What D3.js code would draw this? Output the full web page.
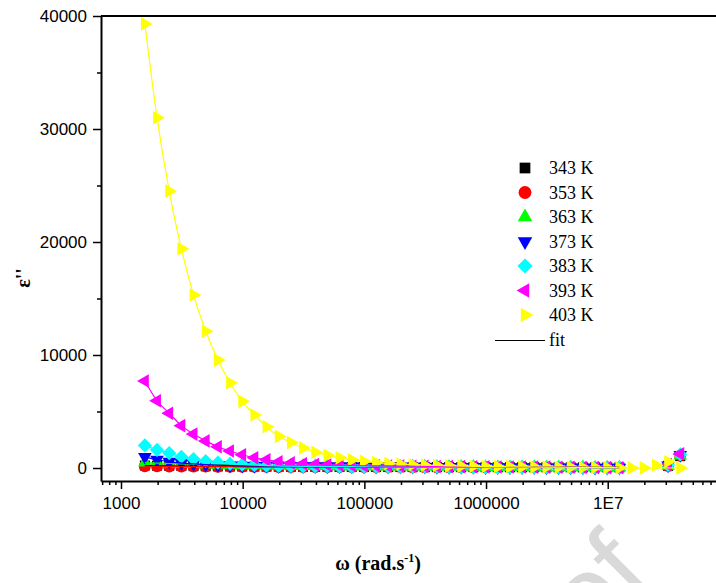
<!DOCTYPE html>
<html>
<head>
<meta charset="utf-8">
<script src="https://cdn.jsdelivr.net/npm/d3@7"></script>
<style>
  body { margin: 0; background: #fff; }
  svg { display: block; }
</style>
</head>
<body>
<div id="chart"></div>
<script>
// angular frequency (rad/s), 10 points per decade
const omega = [1571, 1978, 2490, 3135, 3946, 4968, 6254, 7874, 9912, 12479,
  15710, 19778, 24898, 31346, 39461, 49680, 62541, 78734, 99121, 124786,
  157100, 197776, 248981, 313445, 394601, 496784, 625416, 787347, 991205, 1247860,
  1571000, 1977760, 2489810, 3134450, 3946010, 4967840, 6254160, 7873470, 9912050, 12478600,
  15710000, 19777600, 24898100, 31344500, 39460100];

const temps = ["343 K", "353 K", "363 K", "373 K", "383 K", "393 K", "403 K"];

// epsilon'' for each temperature (null = no point)
const eps343 = [220, 200, 185, 170, 160, 150, 140, 135, 130, 125, 120, 115, 110, 105, 100, 98, 96, 94, 92, 90,
  88, 86, 84, 82, 80, 78, 76, 74, 72, 70, 68, 66, 64, 62, 60, 58, 56, 54, 52, 50, null, null, null, 190, 1050];
const eps353 = [160, 150, 140, 135, 130, 125, 120, 115, 110, 105, 100, 98, 96, 94, 92, 90, 88, 86, 84, 82,
  80, 78, 76, 74, 72, 70, 68, 66, 64, 62, 60, 58, 56, 54, 52, 50, 48, 46, 44, 42, null, null, null, 180, 1100];
const eps363 = [480, 440, 400, 370, 340, 310, 285, 265, 245, 230, 215, 200, 190, 180, 170, 160, 150, 145, 140, 135,
  130, 125, 120, 115, 110, 105, 100, 95, 90, 85, 80, 75, 70, 65, 60, 55, 50, 45, 40, 35, null, null, null, 200, 1100];
const eps373 = [980, 730, 550, 440, 360, 300, 260, 230, 210, 195, 185, 175, 165, 160, 155, 150, 145, 140, 135, 130,
  125, 120, 115, 110, 105, 100, 95, 90, 85, 80, 75, 70, 65, 60, 55, 50, 45, 40, 35, 30, null, null, null, 220, 1150];
const eps383 = [2000, 1600, 1320, 1000, 800, 620, 470, 370, 300, 250, 210, 180, 160, 150, 140, 130, 125, 120, 115, 110,
  105, 100, 95, 90, 85, 80, 75, 70, 65, 60, 55, 50, 45, 40, 35, 30, 25, 20, 15, 10, null, null, null, 250, 1200];
const eps393 = [7700, 5950, 4850, 3750, 3000, 2400, 1880, 1500, 1170, 900, 720, 560, 450, 370, 310, 270, 240, 220, 200, 190,
  180, 170, 160, 150, 140, 130, 120, 110, 100, 95, 90, 85, 80, 75, 70, 60, 50, 40, 30, 20, null, null, null, 300, 1250];
const eps403 = [39300, 31000, 24500, 19400, 15300, 12100, 9550, 7550, 5900, 4690, 3650, 2800, 2250, 1780, 1400, 1120, 900, 720, 590, 480,
  400, 340, 290, 250, 220, 190, 170, 150, 130, 120, 110, 100, 90, 80, 70, 60, 50, 40, 30, 20, 10, 10, 250, 560, 0];

const yTickValues = [0, 10000, 20000, 30000, 40000];
const yTickLabels = ["0", "10000", "20000", "30000", "40000"];
const yMinorTicks = [5000, 15000, 25000, 35000];
const xTickValues = [1e3, 1e4, 1e5, 1e6, 1e7];
const xTickLabels = ["1000", "10000", "100000", "1000000", "1E7"];

const colors = ["#000000", "#ff0000", "#00ff00", "#0000ff", "#00ffff", "#ff00ff", "#ffff00"];

const width = 716, height = 583;
const svg = d3.select("#chart").append("svg")
    .attr("width", width)
    .attr("height", height);

const x = d3.scaleLog().domain([685, 7.76e7]).range([101, 716]);
const y = d3.scaleLinear().domain([-1150, 40000]).range([481, 16]);

// marker shapes: [symbol type, size, rotation]
const shapes = [
    [d3.symbolSquare, 100, 0],
    [d3.symbolCircle, 113, 0],
    [d3.symbolTriangle, 80, 0],
    [d3.symbolTriangle, 80, 180],
    [d3.symbolSquare, 100, 45],
    [d3.symbolTriangle, 80, -90],
    [d3.symbolTriangle, 80, 90]
];

const allEps = [eps343, eps353, eps363, eps373, eps383, eps393, eps403];
const series = temps.map((t, k) => ({
    name: t,
    color: colors[k],
    shape: shapes[k],
    points: allEps[k].map((v, i) => ({w: omega[i], v: v, i: i})).filter(d => d.v !== null)
}));

// watermark (mostly off the page)
svg.append("text")
    .attr("transform", "translate(655,580) rotate(-45)")
    .attr("text-anchor", "end")
    .style("font-family", "'Liberation Sans', Arial, sans-serif")
    .style("font-size", "110px")
    .style("fill", "#d9d9d9")
    .text("Journal Pre-proof");

// markers
series.forEach(s => {
    const sym = d3.symbol().type(s.shape[0]).size(s.shape[1]);
    svg.append("g").selectAll("path")
        .data(s.points)
        .enter()
        .append("path")
        .attr("d", sym)
        .attr("transform", d => `translate(${x(d.w)},${y(d.v)}) rotate(${s.shape[2]})`)
        .attr("fill", s.color);
});

// fit lines
const line = d3.line()
    .x(d => x(d.w))
    .y(d => y(d.v))
    .curve(d3.curveMonotoneX);

series.forEach((s, k) => {
    const fitPts = k === 6
        ? s.points.filter(d => d.i < 42 || d.i === 44)
        : s.points.filter(d => d.i < 40);
    svg.append("path")
        .datum(fitPts)
        .attr("d", line)
        .attr("fill", "none")
        .attr("stroke", s.color)
        .attr("stroke-width", 1.2);
});

// axes
const tickFont = "'Liberation Sans', Arial, sans-serif";

svg.append("g")
    .attr("transform", "translate(101,0)")
    .call(d3.axisLeft(y).tickValues(yTickValues)
        .tickFormat((d, i) => yTickLabels[i])
        .tickSize(8).tickPadding(6).tickSizeOuter(0));
svg.append("g")
    .attr("transform", "translate(101,0)")
    .call(d3.axisLeft(y).tickValues(yMinorTicks).tickFormat("").tickSize(4).tickSizeOuter(0))
    .select(".domain").remove();

const xMinor = x.ticks().filter(d => !xTickValues.includes(d));
svg.append("g")
    .attr("transform", "translate(0,481)")
    .call(d3.axisBottom(x).tickValues(xTickValues)
        .tickFormat((d, i) => xTickLabels[i])
        .tickSize(8).tickPadding(8).tickSizeOuter(0));
svg.append("g")
    .attr("transform", "translate(0,481)")
    .call(d3.axisBottom(x).tickValues(xMinor).tickFormat("").tickSize(4).tickSizeOuter(0))
    .select(".domain").remove();

svg.selectAll(".domain").attr("stroke", "#000").attr("stroke-width", 2);
svg.selectAll(".tick line").attr("stroke", "#000").attr("stroke-width", 1.5);
svg.selectAll(".tick text")
    .style("font-family", tickFont)
    .style("font-size", "17px")
    .attr("fill", "#000");

// top frame line
svg.append("line")
    .attr("x1", x.range()[0]).attr("x2", x.range()[1])
    .attr("y1", y.range()[1]).attr("y2", y.range()[1])
    .attr("stroke", "#000")
    .attr("stroke-width", 2);

// axis titles
const xTitle = svg.append("text")
    .attr("x", 378)
    .attr("y", 570)
    .attr("text-anchor", "middle")
    .style("font-family", "'Liberation Serif', 'Times New Roman', serif")
    .style("font-weight", "bold")
    .style("font-size", "20px");
xTitle.append("tspan").text("\u03c9 (rad.s");
xTitle.append("tspan").attr("dy", -8).style("font-size", "12px").text("-1");
xTitle.append("tspan").attr("dy", 8).text(")");

svg.append("text")
    .attr("transform", "translate(30,278) rotate(-90)")
    .attr("text-anchor", "middle")
    .style("font-family", "'Liberation Serif', 'Times New Roman', serif")
    .style("font-weight", "bold")
    .style("font-size", "20px")
    .text("\u03b5''");

// legend
const legend = svg.append("g").attr("transform", "translate(525,168)");
const rowH = 24.5;
series.forEach((s, k) => {
    legend.append("path")
        .attr("d", d3.symbol().type(s.shape[0]).size(s.shape[1] * 1.15))
        .attr("transform", `translate(0,${k * rowH}) rotate(${s.shape[2]})`)
        .attr("fill", s.color);
    legend.append("text")
        .attr("x", 24)
        .attr("y", k * rowH + 6)
        .style("font-family", "'Liberation Serif', 'Times New Roman', serif")
        .style("font-size", "18px")
        .text(s.name);
});
legend.append("line")
    .attr("x1", -30).attr("x2", 20)
    .attr("y1", 7 * rowH + 1).attr("y2", 7 * rowH + 1)
    .attr("stroke", "#000")
    .attr("stroke-width", 1.2);
legend.append("text")
    .attr("x", 24)
    .attr("y", 7 * rowH + 6)
    .style("font-family", "'Liberation Serif', 'Times New Roman', serif")
    .style("font-size", "18px")
    .text("fit");
</script>
</body>
</html>
